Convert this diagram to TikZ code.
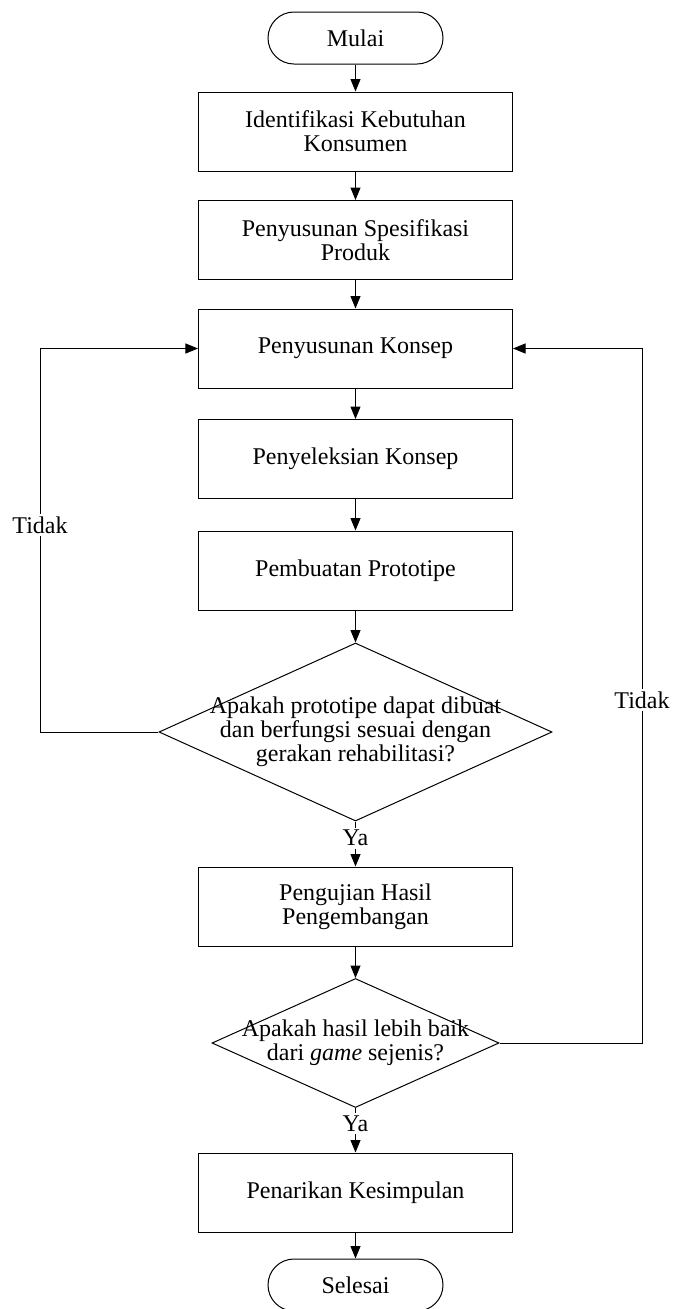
\documentclass[tikz,border=0pt]{standalone}
\usepackage{fontspec}
\setmainfont{Liberation Serif}
\usetikzlibrary{shapes.geometric, arrows.meta}

\begin{document}
\begin{tikzpicture}[x = 0.4pt, y = -0.4pt, font = \fontsize{9.6}{9.6}\selectfont,
        kotak/.style = {draw, thin, minimum width = 125.6pt, minimum height = 31.6pt, align = center},
        terminal/.style = {draw, thin, rounded corners = 10.4pt, minimum width = 70pt, minimum height = 20.8pt},
        keputusan/.style = {draw, thin, diamond, inner sep = 0pt},
        panah/.style = {thin, -{Triangle[length = 5pt, width = 4pt]}},
        ket/.style = {fill = white, inner sep = 1pt}]
        \useasboundingbox (0,0) rectangle (673,1309);
        
        \node [terminal] (mulai) at (355.5,38) {Mulai};
        \node [kotak] (identifikasi) at (355.5,131.5) {Identifikasi Kebutuhan\\ Konsumen};
        \node [kotak] (spesifikasi) at (355.5,240) {Penyusunan Spesifikasi\\ Produk};
        \node [kotak] (konsep) at (355.5,348.5) {Penyusunan Konsep};
        \node [kotak] (seleksi) at (355.5,459) {Penyeleksian Konsep};
        \node [kotak] (prototipe) at (355.5,570.5) {Pembuatan Prototipe};
        
        \node [keputusan, minimum width = 157.2pt, minimum height = 71.2pt] (cek1) at (355.5,732) {};
        \node [align = center] (tanya1) at (cek1) {Apakah prototipe dapat dibuat\\ dan berfungsi sesuai dengan\\ gerakan rehabilitasi?};
        
        \node [kotak] (uji) at (355.5,906.5) {Pengujian Hasil\\ Pengembangan};
        
        \node [keputusan, minimum width = 114.8pt, minimum height = 51.6pt] (cek2) at (355.5,1043) {};
        \node [align = center] (tanya2) at (cek2) {Apakah hasil lebih baik\\ dari \textit{game} sejenis?};
        
        \node [kotak] (simpulan) at (355.5,1192.5) {Penarikan Kesimpulan};
        \node [terminal] (selesai) at (355.5,1285) {Selesai};
        
        \coordinate (kiri) at (40,732);
        \coordinate (kanan) at (642,1043);
        
        \draw [panah] (mulai.south) -- (identifikasi.north);
        \draw [panah] (identifikasi.south) -- (spesifikasi.north);
        \draw [panah] (spesifikasi.south) -- (konsep.north);
        \draw [panah] (konsep.south) -- (seleksi.north);
        \draw [panah] (seleksi.south) -- (prototipe.north);
        \draw [panah] (prototipe.south) -- (cek1.north);
        \draw [panah] (cek1.south) -- node [ket, pos = 0.37] {Ya} (uji.north);
        \draw [panah] (uji.south) -- (cek2.north);
        \draw [panah] (cek2.south) -- node [ket, pos = 0.35] {Ya} (simpulan.north);
        \draw [panah] (simpulan.south) -- (selesai.north);
        
        \draw [panah] (cek1.west) -- (kiri) |- node [ket, pos = 0.27] {Tidak} (konsep.west);
        \draw [panah] (cek2.east) -- (kanan) |- node [ket, pos = 0.247] {Tidak} (konsep.east);
    \end{tikzpicture}
\end{document}
